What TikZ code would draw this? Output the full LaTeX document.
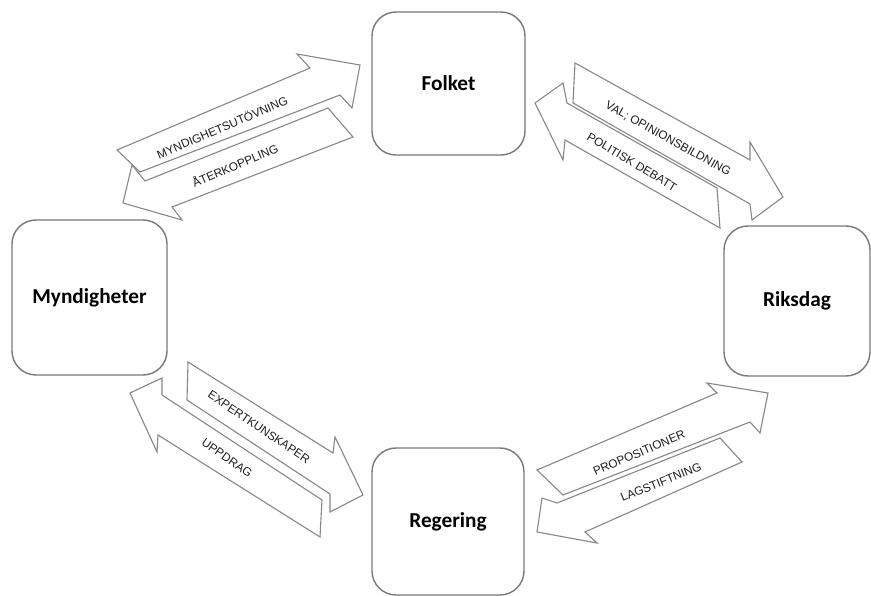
\documentclass[tikz,border=0pt]{standalone}
\usepackage{fontspec}
\setmainfont{Liberation Sans}
\newfontfamily\boxfont{Carlito}

\definecolor{boxline}{RGB}{120,120,120}
\definecolor{arrowline}{RGB}{135,135,135}
\definecolor{labeltext}{RGB}{30,30,30}

\tikzset{
  actor/.style={draw=boxline, line width=1.4pt, rounded corners=24pt,
    inner sep=0pt, text=black,
    font=\boxfont\bfseries\fontsize{21.3}{25}\selectfont},
  flow/.style={draw=arrowline, line width=1.1pt, fill=white, line join=miter},
  flowlabel/.style={inner sep=0pt, text=labeltext,
    font=\fontsize{11.8}{13}\selectfont},
}

\begin{document}
\begin{tikzpicture}[x=1pt,y=-1pt]
\useasboundingbox (0,0) rectangle (871,596);

% the four actors
\node[actor, minimum width=153pt, minimum height=143pt] (folket) at (448.5,83.5) {Folket};
\node[actor, minimum width=155pt, minimum height=155pt] (myndigheter) at (89.5,297.5) {Myndigheter};
\node[actor, minimum width=146pt, minimum height=150pt] (riksdag) at (797,301) {Riksdag};
\node[actor, minimum width=152pt, minimum height=147pt] (regering) at (448,521.5) {Regering};

% Myndigheter -> Folket
\draw[flow] (117,150) -- (310,68) -- (297,54) -- (360,65) -- (352,108) -- (340,95) -- (140,172) -- cycle;
% Folket -> Myndigheter
\draw[flow] (328,108) -- (353,137) -- (172,207) -- (182,220) -- (123,203) -- (132,165) -- (145,181) -- cycle;

% Folket -> Riksdag
\draw[flow] (575,63) -- (750,160) -- (750,142) -- (783,197) -- (752,220) -- (750,204) -- (573,103) -- cycle;
% Riksdag -> Folket
\draw[flow] (535,103) -- (563,83) -- (567,103) -- (717,188) -- (720,228) -- (565,140) -- (563,160) -- cycle;

% Myndigheter -> Regering
\draw[flow] (188,362) -- (333,453) -- (335,437) -- (363,495) -- (330,512) -- (330,494) -- (187,400) -- cycle;
% Regering -> Myndigheter
\draw[flow] (130,393) -- (162,378) -- (162,395) -- (322,500) -- (320,537) -- (158,435) -- (157,452) -- cycle;

% Regering -> Riksdag
\draw[flow] (537,470) -- (717,393) -- (707,383) -- (768,393) -- (760,433) -- (750,422) -- (563,495) -- cycle;
% Riksdag -> Regering
\draw[flow] (720,438) -- (742,462) -- (585,532) -- (597,543) -- (537,532) -- (542,498) -- (557,503) -- cycle;

% arrow labels
\node[flowlabel, rotate=23]  (l1) at (222,127) {MYNDIGHETSUTÖVNING};
\node[flowlabel, rotate=23]  (l2) at (235,165) {ÅTERKOPPLING};
\node[flowlabel, rotate=-29] (l3) at (668,139) {VAL; OPINIONSBILDNING};
\node[flowlabel, rotate=-31] (l4) at (632,162) {POLITISK DEBATT};
\node[flowlabel, rotate=-34] (l5) at (259,427) {EXPERTKUNSKAPER};
\node[flowlabel, rotate=-35] (l6) at (227,458) {UPPDRAG};
\node[flowlabel, rotate=23]  (l7) at (639,453) {PROPOSITIONER};
\node[flowlabel, rotate=22]  (l8) at (661,482) {LAGSTIFTNING};
\end{tikzpicture}
\end{document}
